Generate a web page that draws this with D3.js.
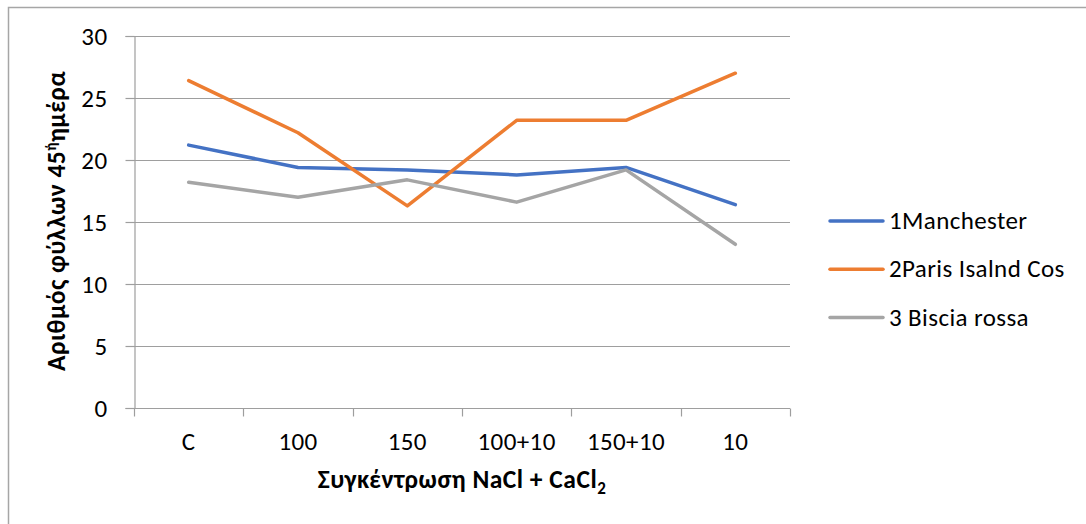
<!DOCTYPE html>
<html>
<head>
<meta charset="utf-8">
<script src="https://cdn.jsdelivr.net/npm/d3@7/dist/d3.min.js"></script>
<style>
  html, body { margin: 0; padding: 0; background: #fff; }
  svg { display: block; font-family: Carlito, Calibri, "Open Sans", "Noto Sans", sans-serif; }
</style>
</head>
<body>
<svg id="chart" width="1086" height="524"></svg>
<script>
// Treatment categories (NaCl + CaCl2 concentration)
const categories = ["C", "100", "150", "100+10", "150+10", "10"];

// Leaf count on day 45, one array per variety
const manchester = [21.2, 19.4, 19.2, 18.8, 19.4, 16.4];
const parisIsland = [26.4, 22.2, 16.3, 23.2, 23.2, 27.0];
const bisciaRossa = [18.2, 17.0, 18.4, 16.6, 19.2, 13.2];

const seriesNames = ["1Manchester", "2Paris Isalnd Cos", "3 Biscia rossa"];
const seriesColors = ["#4472c4", "#ed7d31", "#a5a5a5"];
const yTicks = [0, 5, 10, 15, 20, 25, 30];

const series = [manchester, parisIsland, bisciaRossa].map((values, i) => ({
  name: seriesNames[i], color: seriesColors[i], values
}));

const FONT = "Carlito, Calibri, 'Open Sans', sans-serif";
const FS = 25;

const svg = d3.select("#chart");
const margin = { left: 134, right: 296, top: 36, bottom: 116 };
const W = 1086, H = 524;

// outer frame (top and left edges)
svg.append("path")
  .attr("d", `M8.5,${H} V7.5 H${W}`)
  .attr("fill", "none").attr("stroke", "#a6a6a6").attr("stroke-width", 1.5);

const x = d3.scaleBand().domain(categories).range([margin.left, W - margin.right]).padding(0);
const y = d3.scaleLinear().domain([0, 30]).range([H - margin.bottom, margin.top]);

const gridColor = "#9e9e9e";

// horizontal gridlines
svg.append("g")
  .selectAll("line").data(yTicks.filter(d => d > 0)).join("line")
  .attr("x1", margin.left).attr("x2", W - margin.right)
  .attr("y1", d => Math.round(y(d)) + 0.5).attr("y2", d => Math.round(y(d)) + 0.5)
  .attr("stroke", gridColor).attr("stroke-width", 1.2);

// y axis
const yAxis = svg.append("g")
  .attr("transform", `translate(${margin.left + 0.5},0)`)
  .call(d3.axisLeft(y).tickValues(yTicks).tickSize(9).tickPadding(18));
yAxis.attr("font-family", FONT);
yAxis.select(".domain").attr("stroke", gridColor).attr("stroke-width", 1.2);
yAxis.selectAll(".tick line").attr("stroke", gridColor).attr("stroke-width", 1.2);
yAxis.selectAll(".tick text").attr("font-size", FS).attr("fill", "#000")
  .attr("font-family", FONT).attr("letter-spacing", 0.4);

// x axis with ticks at category boundaries
const xAxisG = svg.append("g").attr("transform", `translate(0,${Math.round(y(0)) + 0.5})`);
xAxisG.append("line")
  .attr("x1", margin.left).attr("x2", W - margin.right)
  .attr("stroke", gridColor).attr("stroke-width", 1.2);
const boundaries = categories.map(c => x(c)).concat([x(categories[categories.length - 1]) + x.bandwidth()]);
xAxisG.selectAll("line.tk").data(boundaries).join("line").attr("class", "tk")
  .attr("x1", d => Math.round(d) + 0.5).attr("x2", d => Math.round(d) + 0.5)
  .attr("y1", 0).attr("y2", 8)
  .attr("stroke", gridColor).attr("stroke-width", 1.2);
xAxisG.selectAll("text").data(categories).join("text")
  .attr("x", d => x(d) + x.bandwidth() / 2)
  .attr("y", 41.5)
  .attr("text-anchor", "middle")
  .attr("font-size", FS).attr("fill", "#000").attr("letter-spacing", 0.4)
  .text(d => d);

// series lines
const line = d3.line()
  .x((d, i) => x(categories[i]) + x.bandwidth() / 2)
  .y(d => y(d));
svg.append("g").selectAll("path").data(series).join("path")
  .attr("d", d => line(d.values))
  .attr("fill", "none")
  .attr("stroke", d => d.color)
  .attr("stroke-width", 3.5)
  .attr("stroke-linejoin", "round")
  .attr("stroke-linecap", "round");

// y axis title
const yTitle = svg.append("text")
  .attr("transform", `translate(65,${(margin.top + H - margin.bottom) / 2 - 1}) rotate(-90)`)
  .attr("text-anchor", "middle")
  .attr("font-size", 25.5).attr("font-weight", "bold").attr("fill", "#000")
  .attr("letter-spacing", 0.5);
yTitle.append("tspan").text("Αριθμός φύλλων 45");
yTitle.append("tspan").attr("dy", -9).attr("font-size", 15).text("ή");
yTitle.append("tspan").attr("dy", 9).text("ημέρα");

// x axis title
const xTitle = svg.append("text")
  .attr("x", (margin.left + W - margin.right) / 2)
  .attr("y", 488)
  .attr("text-anchor", "middle")
  .attr("font-size", 25.5).attr("font-weight", "bold").attr("fill", "#000")
  .attr("letter-spacing", 0.5);
xTitle.append("tspan").text("Συγκέντρωση NaCl + CaCl");
xTitle.append("tspan").attr("dy", 6).attr("font-size", 17).text("2");

// legend
const legend = svg.append("g").attr("transform", "translate(830,221)");
const item = legend.selectAll("g").data(series).join("g")
  .attr("transform", (d, i) => `translate(0,${i * 48.3})`);
item.append("line")
  .attr("x1", 0).attr("x2", 53)
  .attr("stroke", d => d.color).attr("stroke-width", 3.5).attr("stroke-linecap", "round");
item.append("text")
  .attr("x", 59).attr("y", 8)
  .attr("font-size", FS).attr("fill", "#000").attr("letter-spacing", 0.4)
  .text(d => d.name);
</script>
</body>
</html>
